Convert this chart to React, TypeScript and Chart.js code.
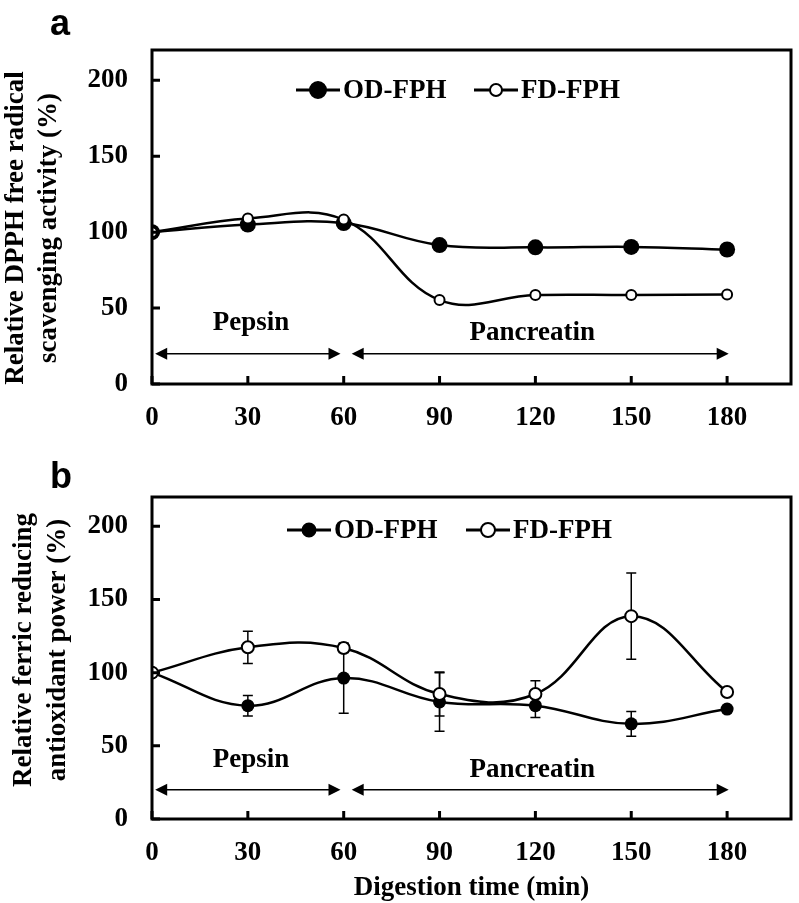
import React, { useEffect, useRef } from "react";
import { Chart, registerables } from "chart.js";
Chart.register(...registerables);

// ---------- data ----------
const times = [0, 30, 60, 90, 120, 150, 180];
const xTicks = [0, 30, 60, 90, 120, 150, 180];
const yTicks = [0, 50, 100, 150, 200];
const seriesLabels = ["OD-FPH", "FD-FPH"];

// panel a: DPPH
const dpphOD = [100, 105, 106, 91.5, 90, 90.3, 88.6];
const dpphFD = [100, 109, 108.3, 55.3, 58.6, 58.6, 59];

// panel b: FRAP
const frapOD = [100, 77.4, 96.3, 80, 77.4, 65, 75.1];
const frapODErr = [0, 7, 24, 20, 8, 8.5, 0];
const frapFD = [100, 117.3, 116.8, 85.4, 85.4, 138.6, 86.8];
const frapFDErr = [0, 11, 3, 15, 9, 29.5, 0];

// digestion phases
const phaseLabels = ["Pepsin", "Pancreatin"];
const phaseStart = [1, 62.5];
const phaseEnd = [59, 180.5];
const phaseArrowLevel = 20;
const phaseLabelX = [31, 119];
const phaseLabelY = [40, 33.5];

const titleA = ["Relative DPPH free radical", "scavenging activity (%)"];
const titleB = ["Relative ferric reducing", "antioxidant power (%)"];
const xTitle = "Digestion time (min)";

const SERIF = '"Liberation Serif", "Times New Roman", serif';
const SANS = '"Liberation Sans", Arial, sans-serif';
const FS = 27;

type PanelOpts = {
  letter: string;
  od: number[];
  fd: number[];
  odErr?: number[];
  fdErr?: number[];
  padTop: number;
  padRight: number;
  xHeight: number;
  odRadius: number;
  fdRadius: number;
  legendY: number;
  legendX: number[]; // line starts
  yTitle: string[];
  yTitleX: number[];
  yTitleY: number;
  letterY: number;
  showXTitle: boolean;
  xTitleY: number;
};

function arrowHead(ctx: CanvasRenderingContext2D, x: number, y: number, dir: number) {
  ctx.beginPath();
  ctx.moveTo(x, y);
  ctx.lineTo(x - dir * 12, y - 6);
  ctx.lineTo(x - dir * 12, y + 6);
  ctx.closePath();
  ctx.fill();
}

function makeChart(canvas: HTMLCanvasElement, o: PanelOpts) {
  const pts = (arr: number[]) => times.map((t, i) => ({ x: t, y: arr[i] }));
  const decor = {
    id: "decor" + o.letter,
    beforeDatasetsDraw(chart: any) {
      const ctx = chart.ctx as CanvasRenderingContext2D;
      const xs = chart.scales.x, ys = chart.scales.y;
      ctx.save();
      ctx.strokeStyle = "#000";
      ctx.lineWidth = 1.5;
      const bars = (vals: number[], errs?: number[]) => {
        if (!errs) return;
        vals.forEach((v, i) => {
          if (!errs[i]) return;
          const px = xs.getPixelForValue(times[i]);
          const t = ys.getPixelForValue(v + errs[i]);
          const b = ys.getPixelForValue(v - errs[i]);
          ctx.beginPath();
          ctx.moveTo(px, t); ctx.lineTo(px, b);
          ctx.moveTo(px - 5, t); ctx.lineTo(px + 5, t);
          ctx.moveTo(px - 5, b); ctx.lineTo(px + 5, b);
          ctx.stroke();
        });
      };
      bars(o.od, o.odErr);
      bars(o.fd, o.fdErr);
      // phase arrows
      ctx.fillStyle = "#000";
      const ay = ys.getPixelForValue(phaseArrowLevel);
      phaseStart.forEach((s, i) => {
        const x1 = xs.getPixelForValue(s);
        const x2 = xs.getPixelForValue(phaseEnd[i]);
        ctx.beginPath();
        ctx.moveTo(x1 + 6, ay); ctx.lineTo(x2 - 6, ay);
        ctx.stroke();
        arrowHead(ctx, x1, ay, -1);
        arrowHead(ctx, x2, ay, 1);
        ctx.font = `bold ${FS}px ${SERIF}`;
        ctx.textAlign = "center";
        ctx.textBaseline = "middle";
        ctx.fillText(phaseLabels[i], xs.getPixelForValue(phaseLabelX[i]), ys.getPixelForValue(phaseLabelY[i]));
      });
      ctx.restore();
    },
    afterDraw(chart: any) {
      const ctx = chart.ctx as CanvasRenderingContext2D;
      const a = chart.chartArea;
      const xs = chart.scales.x, ys = chart.scales.y;
      ctx.save();
      ctx.strokeStyle = "#000";
      ctx.lineWidth = 3;
      ctx.strokeRect(a.left, a.top, a.right - a.left, a.bottom - a.top);
      ctx.beginPath();
      xTicks.forEach((v) => {
        const px = xs.getPixelForValue(v);
        ctx.moveTo(px, a.bottom); ctx.lineTo(px, a.bottom - 8);
      });
      yTicks.forEach((v) => {
        const py = ys.getPixelForValue(v);
        ctx.moveTo(a.left, py); ctx.lineTo(a.left + 8, py);
      });
      ctx.stroke();
      // legend
      const ds = [
        { label: seriesLabels[0], fill: "#000", r: o.odRadius },
        { label: seriesLabels[1], fill: "#fff", r: o.fdRadius },
      ];
      ds.forEach((d, i) => {
        const x0 = o.legendX[i];
        ctx.lineWidth = 3;
        ctx.beginPath();
        ctx.moveTo(x0, o.legendY); ctx.lineTo(x0 + 44, o.legendY);
        ctx.stroke();
        ctx.beginPath();
        ctx.arc(x0 + 22, o.legendY, d.r, 0, Math.PI * 2);
        ctx.fillStyle = d.fill;
        ctx.fill();
        ctx.lineWidth = 2;
        ctx.stroke();
        ctx.fillStyle = "#000";
        ctx.font = `bold ${FS}px ${SERIF}`;
        ctx.textAlign = "left";
        ctx.textBaseline = "middle";
        ctx.fillText(d.label, x0 + 47, o.legendY + 1);
      });
      // y title
      ctx.font = `bold ${FS}px ${SERIF}`;
      ctx.textAlign = "center";
      ctx.textBaseline = "middle";
      o.yTitle.forEach((line, i) => {
        ctx.save();
        ctx.translate(o.yTitleX[i], o.yTitleY);
        ctx.rotate(-Math.PI / 2);
        ctx.fillText(line, 0, 0);
        ctx.restore();
      });
      if (o.showXTitle) {
        ctx.fillText(xTitle, (a.left + a.right) / 2, o.xTitleY);
      }
      // panel letter
      ctx.font = `bold 36px ${SANS}`;
      ctx.textAlign = "left";
      ctx.textBaseline = "alphabetic";
      ctx.fillText(o.letter, 50, o.letterY);
      ctx.restore();
    },
  };

  return new Chart(canvas, {
    type: "line",
    data: {
      datasets: [
        {
          label: seriesLabels[1],
          data: pts(o.fd),
          order: 0,
          borderColor: "#000",
          borderWidth: 2.5,
          tension: 0.4,
          pointRadius: o.fdRadius - 1,
          pointBorderWidth: 2,
          pointBackgroundColor: "#fff",
          pointBorderColor: "#000",
        },
        {
          label: seriesLabels[0],
          data: pts(o.od),
          order: 1,
          borderColor: "#000",
          borderWidth: 2.5,
          tension: 0.4,
          pointRadius: o.odRadius,
          pointBorderWidth: 0,
          pointBackgroundColor: "#000",
          pointBorderColor: "#000",
        },
      ],
    },
    options: {
      responsive: false,
      animation: false,
      events: [],
      layout: { padding: { top: o.padTop, right: o.padRight, left: 0, bottom: 0 } },
      plugins: { legend: { display: false }, tooltip: { enabled: false } },
      scales: {
        x: {
          type: "linear",
          min: 0,
          max: 200,
          grid: { display: false, drawTicks: false },
          border: { display: false },
          afterBuildTicks: (s: any) => { s.ticks = xTicks.map((v) => ({ value: v })); },
          afterFit: (s: any) => { s.height = o.xHeight; },
          ticks: {
            padding: 18,
            color: "#000",
            font: { family: SERIF, size: FS, weight: "bold" },
            maxRotation: 0,
            autoSkip: false,
          },
        },
        y: {
          type: "linear",
          min: 0,
          max: 220,
          grid: { display: false, drawTicks: false },
          border: { display: false },
          afterBuildTicks: (s: any) => { s.ticks = yTicks.map((v) => ({ value: v })); },
          afterFit: (s: any) => { s.width = 152; },
          ticks: {
            padding: 24,
            color: "#000",
            font: { family: SERIF, size: FS, weight: "bold" },
          },
        },
      },
    } as any,
    plugins: [decor],
  });
}

export default function App() {
  const refA = useRef<HTMLCanvasElement>(null);
  const refB = useRef<HTMLCanvasElement>(null);
  useEffect(() => {
    const ca = makeChart(refA.current!, {
      letter: "a",
      od: dpphOD,
      fd: dpphFD,
      padTop: 50,
      padRight: 3,
      xHeight: 66,
      odRadius: 8,
      fdRadius: 6,
      legendY: 90,
      legendX: [296, 474],
      yTitle: titleA,
      yTitleX: [16, 49],
      yTitleY: 228,
      letterY: 35,
      showXTitle: false,
      xTitleY: 0,
    });
    const cb = makeChart(refB.current!, {
      letter: "b",
      od: frapOD,
      fd: frapFD,
      odErr: frapODErr,
      fdErr: frapFDErr,
      padTop: 47,
      padRight: 2,
      xHeight: 84,
      odRadius: 6.5,
      fdRadius: 7,
      legendY: 80,
      legendX: [287, 466],
      yTitle: titleB,
      yTitleX: [24, 58],
      yTitleY: 200,
      letterY: 38,
      showXTitle: true,
      xTitleY: 438,
    });
    return () => { ca.destroy(); cb.destroy(); };
  }, []);
  return (
    <div style={{ position: "absolute", left: 0, top: 0, width: 799, height: 903, background: "#fff", overflow: "hidden" }}>
      <canvas ref={refA} width={799} height={450} style={{ position: "absolute", left: 0, top: 0, width: 799, height: 450 }} />
      <canvas ref={refB} width={799} height={453} style={{ position: "absolute", left: 0, top: 450, width: 799, height: 453 }} />
    </div>
  );
}
